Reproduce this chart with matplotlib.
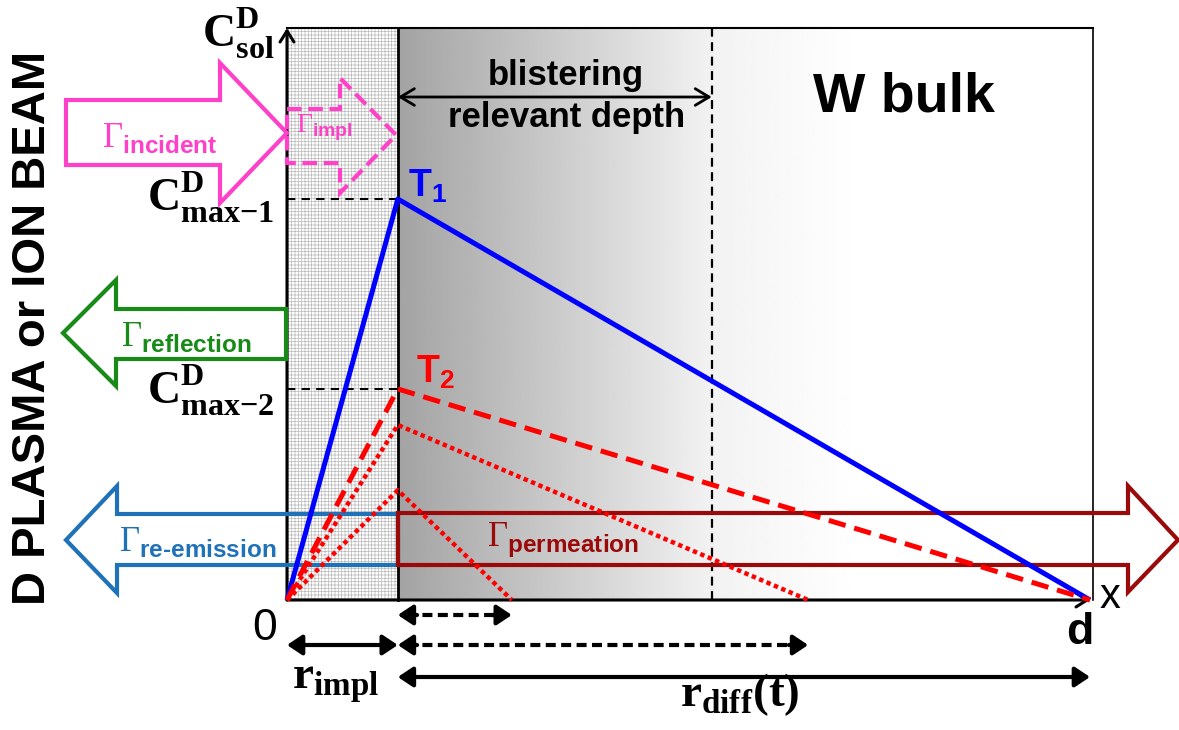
import numpy as np
import matplotlib.pyplot as plt
from matplotlib.patches import Polygon, Rectangle, FancyArrowPatch

plt.rcParams['font.family'] = ['Liberation Sans', 'DejaVu Sans']
plt.rcParams['mathtext.fontset'] = 'custom'
plt.rcParams['mathtext.rm'] = 'Liberation Serif'
plt.rcParams['mathtext.bf'] = 'Liberation Serif:bold'
plt.rcParams['mathtext.sf'] = 'Liberation Sans:bold'
plt.rcParams['hatch.linewidth'] = 0.5

# depth in units of sample thickness d, concentration in units of C_sol
depth_impl = 0.138      # r_impl
depth_blister = 0.529   # end of blistering relevant depth
depth_d = 1.0
c_sol = 1.0

# T1 and T2 steady profiles
t1_x = [0.0, depth_impl, depth_d]
t1_c = [0.0, 0.701, 0.0]
t2_x = [0.0, depth_impl, depth_d]
t2_c = [0.0, 0.369, 0.0]
# earlier T2 profiles (diffusion front still moving)
early_x = [[0.0, depth_impl, 0.649], [0.0, depth_impl, 0.280]]
early_c = [[0.0, 0.306, 0.0], [0.0, 0.192, 0.0]]
front_ends = [0.280, 0.649]

# layout: picture pixels -> data units
X0, XD, Y0, YTOP = 287, 1090, 600, 28
def X(p):
    return (p - X0) / (XD - X0)
def Y(p):
    return (Y0 - p) / (Y0 - YTOP)
def P(pts):
    return [(X(a), Y(b)) for a, b in pts]

PINK = '#ff40c8'
GREEN = '#178a17'
STEEL = '#1f72b8'
DRED = '#9b0a0a'

fig = plt.figure(figsize=(11.79, 7.30), dpi=100)
ax = fig.add_axes([0, 0, 1, 1])
ax.set_xlim(X(0), X(1179))
ax.set_ylim(Y(730), Y(0))
ax.axis('off')

x_right = X(1093)

# gradient of the bulk
gx = np.linspace(depth_impl, x_right, 400)
gv = np.interp(gx, [X(398), X(712), X(860)], [0.64, 0.95, 1.0])
ax.imshow(gv[None, :], cmap='gray', vmin=0, vmax=1, aspect='auto',
          extent=[depth_impl, x_right, 0, c_sol], zorder=0, interpolation='bilinear')

# implantation zone
ax.add_patch(Rectangle((0, 0), depth_impl, c_sol, facecolor='white', edgecolor='#bababa',
                       hatch='+++++', lw=0, zorder=1))

# box
ax.plot([0, x_right], [c_sol, c_sol], color='black', lw=1.5, zorder=3)
ax.plot([x_right, x_right], [0, c_sol], color='black', lw=1.2, zorder=3)
ax.plot([depth_impl, depth_impl], [0, c_sol], color='black', lw=2, zorder=3)
ax.plot([depth_blister, depth_blister], [0, c_sol], color='black', lw=1.6,
        dashes=(4, 2.5), zorder=3)
for c in [t1_c[1], t2_c[1]]:
    ax.plot([0, depth_impl], [c, c], color='black', lw=1.5, dashes=(4, 3), zorder=3)

# axes arrows
ax.add_patch(FancyArrowPatch((0, 0), (0, c_sol), arrowstyle='->,head_length=0.4,head_width=0.25',
                             mutation_scale=20, lw=2.2, color='black', shrinkA=0, shrinkB=0, zorder=4))
ax.add_patch(FancyArrowPatch((0, 0), (depth_d, 0), arrowstyle='->,head_length=0.4,head_width=0.25',
                             mutation_scale=20, lw=2.2, color='black', shrinkA=0, shrinkB=0, zorder=4))

# block arrows
incident = P([(66, 100), (220, 100), (220, 63), (287, 133), (220, 203), (220, 165), (66, 165)])
impl = P([(287, 109), (340, 109), (340, 78), (396, 135), (340, 193), (340, 163), (287, 163)])
reflect = P([(286, 309), (116, 309), (116, 280), (63, 333), (116, 386), (116, 359), (286, 359)])
reemit = P([(398, 514), (117, 514), (117, 486), (66, 540), (117, 593), (117, 565), (398, 565)])
permeate = P([(398, 513), (1128, 513), (1128, 486), (1178, 540), (1128, 592), (1128, 565), (398, 565)])
ax.add_patch(Polygon(incident, closed=True, fill=False, edgecolor=PINK, lw=3, zorder=5))
ax.add_patch(Polygon(impl, closed=True, fill=False, edgecolor=PINK, lw=3, ls=(0, (3.5, 1.6)), zorder=5))
ax.add_patch(Polygon(reflect, closed=True, fill=False, edgecolor=GREEN, lw=3, zorder=5))
ax.add_patch(Polygon(reemit, closed=True, fill=False, edgecolor=STEEL, lw=3, zorder=5))
ax.add_patch(Polygon(permeate, closed=True, fill=False, edgecolor=DRED, lw=3, zorder=5))

# concentration profiles
ax.plot(t1_x, t1_c, color='blue', lw=3.6, zorder=6, solid_capstyle='butt')
ax.plot(t2_x, t2_c, color='red', lw=3.6, dashes=(3.5, 1.8), zorder=6)
for ex, ec in zip(early_x, early_c):
    ax.plot(ex, ec, color='red', lw=3.2, dashes=(1, 0.8), dash_capstyle='butt', zorder=6)

# depth arrows below
HEAD = '-|>,head_length=0.45,head_width=0.3'
def darrow(x1, x2, y, dashed=False):
    if not dashed:
        ax.add_patch(FancyArrowPatch((x1, y), (x2, y), arrowstyle='<|-|>,head_length=0.45,head_width=0.3',
                                     mutation_scale=20, lw=3, color='black',
                                     shrinkA=0, shrinkB=0, zorder=4))
        return
    h = 0.012
    ax.plot([x1 + h, x2 - h], [y, y], color='black', lw=3, dashes=(2.4, 1.3), zorder=4)
    for a, b in [(x1 + 2 * h, x1), (x2 - 2 * h, x2)]:
        ax.add_patch(FancyArrowPatch((a, y), (b, y), arrowstyle=HEAD, mutation_scale=20, lw=3,
                                     color='black', shrinkA=0, shrinkB=0, zorder=4))

darrow(depth_impl, front_ends[0], Y(615), True)
darrow(depth_impl, front_ends[1], Y(645), True)
darrow(0, depth_impl, Y(645))
darrow(depth_impl, depth_d, Y(677))

ax.add_patch(FancyArrowPatch((depth_impl, Y(97)), (depth_blister, Y(97)),
                             arrowstyle='<->,head_length=0.5,head_width=0.3', mutation_scale=20,
                             lw=2, color='black', shrinkA=0, shrinkB=0, zorder=4))

# texts
ax.text(X(33), Y(328), 'D PLASMA or ION BEAM', rotation=90, fontsize=34, fontweight='bold',
        ha='center', va='center')
ax.text(X(566), Y(76), 'blistering', fontsize=25, fontweight='bold', ha='center', va='center')
ax.text(X(567), Y(117), 'relevant depth', fontsize=25, fontweight='bold', ha='center', va='center')
ax.text(X(904), Y(98), 'W bulk', fontsize=40, fontweight='bold', ha='center', va='center')

ax.text(X(274), Y(33), r'$\mathbf{C}_{\mathbf{sol}}^{\mathbf{D}}$', fontsize=33, ha='right', va='center')
ax.text(X(274), Y(197), r'$\mathbf{C}_{\mathbf{max{-}1}}^{\mathbf{D}}$', fontsize=33, ha='right', va='center')
ax.text(X(274), Y(390), r'$\mathbf{C}_{\mathbf{max{-}2}}^{\mathbf{D}}$', fontsize=33, ha='right', va='center')

ax.text(X(408), Y(168), r'$\mathsf{T}_{\mathsf{1}}$', fontsize=27, color='blue', ha='left', va='top')
ax.text(X(416), Y(354), r'$\mathsf{T}_{\mathsf{2}}$', fontsize=27, color='red', ha='left', va='top')

ax.text(X(160), Y(138), r'$\Gamma_{\mathsf{incident}}$', fontsize=25, color=PINK, ha='center', va='center')
ax.text(X(324), Y(128), r'$\Gamma_{\mathsf{impl}}$', fontsize=20, color=PINK, ha='center', va='center')
ax.text(X(186), Y(337), r'$\Gamma_{\mathsf{reflection}}$', fontsize=25, color=GREEN, ha='center', va='center')
ax.text(X(198), Y(542), '$\\Gamma_{\\mathsf{re\u2010emission}}$', fontsize=25, color=STEEL,
        ha='center', va='center')
ax.text(X(563), Y(540), r'$\Gamma_{\mathsf{permeation}}$', fontsize=25, color=DRED, ha='center', va='center')

ax.text(X(265), Y(628), '0', fontsize=32, ha='center', va='center')
ax.text(X(1080), Y(632), 'd', fontsize=32, fontweight='bold', ha='center', va='center')
ax.text(X(1110), Y(597), 'x', fontsize=30, ha='center', va='center')
ax.text(X(336), Y(683), r'$\mathbf{r}_{\mathbf{impl}}$', fontsize=34, ha='center', va='center')
ax.text(X(740), Y(695), r'$\mathbf{r}_{\mathbf{diff}}\mathbf{(t)}$', fontsize=34, ha='center', va='center')

fig.savefig('out.png', dpi=100)
